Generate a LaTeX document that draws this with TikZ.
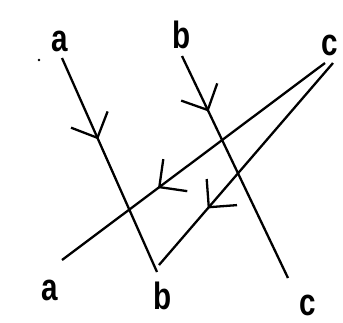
\documentclass[tikz,border=0pt]{standalone}
\usepackage{fontspec}
\newfontfamily\labfont[FakeStretch=0.78]{Liberation Sans}
\usetikzlibrary{arrows.meta,decorations.markings}
\tikzset{
  strand/.style={line width=2.3pt,postaction={decorate},
    decoration={markings,mark=at position #1 with {\arrow{Straight Barb[length=20pt,width=40pt,line width=2.3pt]}}}},
  lab/.style={anchor=base,inner sep=0pt,font=\labfont\bfseries\fontsize{38}{40}\selectfont}
}
\begin{document}
\begin{tikzpicture}[x=1pt,y=-1pt]
\useasboundingbox (0,0) rectangle (343,322);
% labels
\node[lab] (ta) at (60,51) {a};
\node[lab] (tb) at (182,48) {b};
\node[lab] (tc) at (330,55) {c};
\node[lab] (ba) at (50,300) {a};
\node[lab] (bb) at (163,309) {b};
\node[lab] (bc) at (308,315) {c};
% strand ends
\coordinate (a1) at (62,58);
\coordinate (b1) at (182,56);
\coordinate (c1) at (325,63);
\coordinate (c1r) at (333,63);
\coordinate (a2) at (62,260);
\coordinate (b2) at (157,272);
\coordinate (b2r) at (159,265);
\coordinate (c2) at (288,278);
\draw[strand=0.38] (a1) -- (b2);
\draw[strand=0.25] (b1) -- (c2);
\draw[strand=0.635] (c1) -- (a2);
\draw[strand=0.72] (c1r) -- (b2r);
\fill (39,60) circle (1.3);
\end{tikzpicture}
\end{document}
